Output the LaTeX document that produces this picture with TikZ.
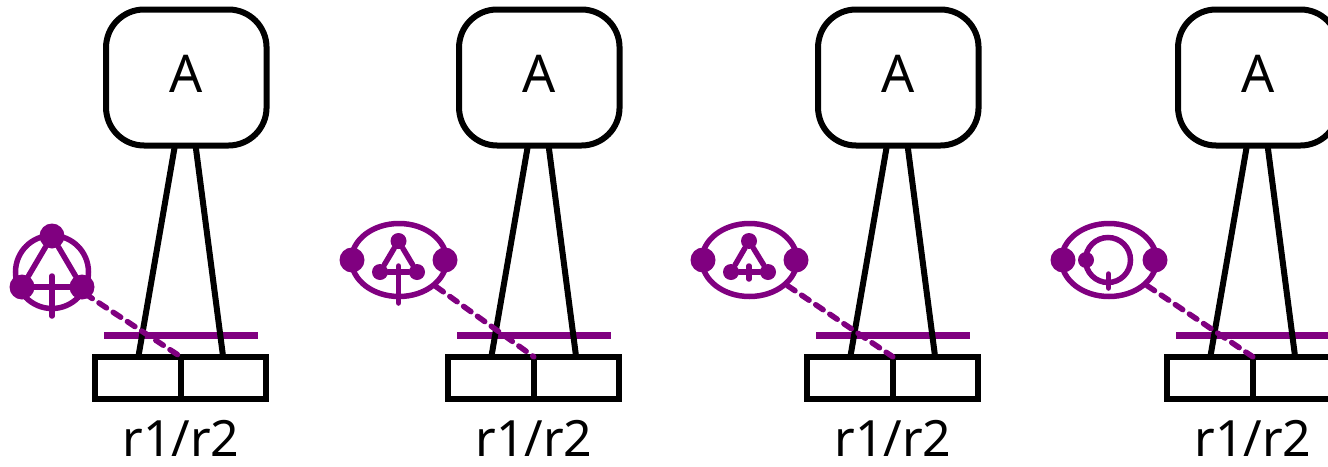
\documentclass[tikz,border=0pt]{standalone}
\usepackage{fontspec}
\setmainfont{Noto Sans}
\usetikzlibrary{shapes.geometric}

\definecolor{mypurple}{HTML}{800080}

\begin{document}
\begin{tikzpicture}[
    x=1pt,
    y=-1pt,
    ablock/.style={
      draw,
      line width=6pt,
      rectangle,
      rounded corners=38pt,
      minimum width=160.5pt,
      minimum height=136pt,
      text depth=6.7pt,
      font=\fontsize{52}{52}\selectfont
    },
    regbox/.style={
      draw,
      line width=6pt,
      rectangle,
      outer sep=0pt,
      minimum width=85.75pt,
      minimum height=42.5pt
    },
    reglabel/.style={
      anchor=base,
      inner sep=0pt,
      font=\fontsize{50}{50}\selectfont
    },
    ringc/.style={
      draw=mypurple,
      line width=5.5pt,
      circle,
      inner sep=0pt,
      minimum size=73pt
    },
    ringe/.style={
      draw=mypurple,
      line width=5.5pt,
      ellipse,
      inner sep=0pt,
      minimum width=95pt,
      minimum height=73pt
    },
    ringi/.style={
      draw=mypurple,
      line width=5.5pt,
      circle,
      inner sep=0pt,
      minimum size=45pt
    },
    bigdot/.style={
      circle,
      fill=mypurple,
      inner sep=0pt,
      minimum size=25pt
    },
    smalldot/.style={
      circle,
      fill=mypurple,
      inner sep=0pt,
      minimum size=16pt
    },
    purple line/.style={
      draw=mypurple,
      line width=5.5pt,
      line cap=round
    }
  ]
    \useasboundingbox (0, 0) rectangle (1328, 466);
    \clip (0, 0) rectangle (1328, 466);

    % first icon
    \node[ringc] (ring1) at (52, 272) {};
    \node[bigdot] (top1) at (52, 236) {};
    \node[bigdot] (left1) at (22, 287) {};
    \node[bigdot] (right1) at (82, 287) {};
    \coordinate (crossT1) at (52, 276);
    \coordinate (crossB1) at (52, 316);
    \draw[purple line] (top1) to (left1);
    \draw[purple line] (top1) to (right1);
    \draw[purple line] (left1) to (right1);
    \draw[purple line] (crossT1) to (crossB1);

    % second icon
    \node[ringe] (ring2) at (399, 260) {};
    \node[bigdot] (left2) at (352, 260) {};
    \node[bigdot] (right2) at (445, 260) {};
    \node[smalldot] (top2) at (398.5, 241) {};
    \node[smalldot] (tril2) at (380, 272) {};
    \node[smalldot] (trir2) at (417, 272) {};
    \coordinate (crossT2) at (398.5, 266);
    \coordinate (crossB2) at (398.5, 303);
    \draw[purple line] (top2) to (tril2);
    \draw[purple line] (top2) to (trir2);
    \draw[purple line] (tril2) to (trir2);
    \draw[purple line] (crossT2) to (crossB2);

    % third icon
    \node[ringe] (ring3) at (749.5, 260) {};
    \node[bigdot] (left3) at (703, 260) {};
    \node[bigdot] (right3) at (796, 260) {};
    \node[smalldot] (top3) at (749, 241) {};
    \node[smalldot] (tril3) at (731, 272) {};
    \node[smalldot] (trir3) at (768, 272) {};
    \coordinate (crossT3) at (749, 266);
    \coordinate (crossB3) at (749, 279);
    \draw[purple line] (top3) to (tril3);
    \draw[purple line] (top3) to (trir3);
    \draw[purple line] (tril3) to (trir3);
    \draw[purple line] (crossT3) to (crossB3);

    % fourth icon
    \node[ringe] (ring4) at (1109, 260) {};
    \node[bigdot] (left4) at (1063, 260) {};
    \node[bigdot] (right4) at (1155, 260) {};
    \node[ringi] (inner4) at (1108, 260) {};
    \node[smalldot] (dot4) at (1086, 260) {};
    \coordinate (crossT4) at (1108.5, 274);
    \coordinate (crossB4) at (1108.5, 288);
    \draw[purple line] (crossT4) to (crossB4);

    \foreach \c/\dx in {1/0, 2/353, 3/712, 4/1072} {
      \begin{scope}[xshift=\dx pt]
        \node[ablock] (A\c) at (186.3, 77.5) {A};
        \node[regbox] (regl\c) at (137.9, 378) {};
        \node[regbox] (regr\c) at (223.6, 378) {};
        \node[reglabel] (lab\c) at (181, 456.7) {r1/r2};
        \coordinate (legla\c) at (175, 145);
        \coordinate (leglb\c) at (138.5, 356);
        \coordinate (legra\c) at (195.5, 145);
        \coordinate (legrb\c) at (223, 356);
        \coordinate (barl\c) at (104, 335);
        \coordinate (barr\c) at (258, 335);
        \draw[draw=mypurple, line width=7pt] (barl\c) to (barr\c);
        \draw[line width=6pt] (legla\c) to (leglb\c);
        \draw[line width=6pt] (legra\c) to (legrb\c);
        \draw[purple line, dash pattern=on 9pt off 8pt] (ring\c) to (regl\c.north east);
      \end{scope}
    }

  \end{tikzpicture}
\end{document}
